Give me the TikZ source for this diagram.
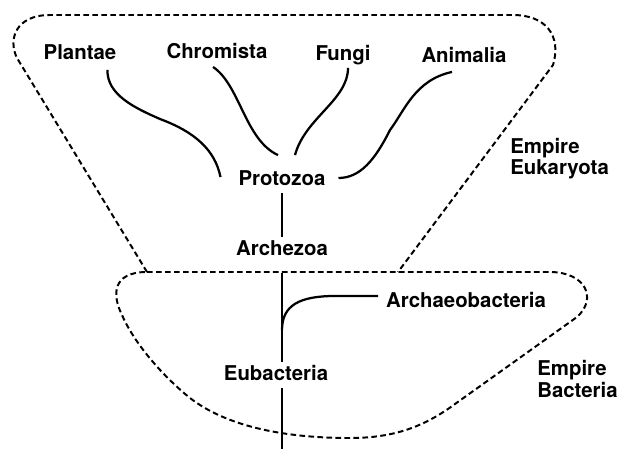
\documentclass[tikz,border=0pt]{standalone}
\usepackage{fontspec}
\setmainfont{TeX Gyre Heros}
\usetikzlibrary{calc}

\begin{document}
\begin{tikzpicture}[
  x=0.025cm, y=-0.025cm,
  font=\fontsize{14.5}{15}\selectfont\bfseries,
  taxon/.style={inner sep=2pt, text height=11pt, text depth=3pt},
  empire/.style={inner sep=0pt, align=left, anchor=west},
  branch/.style={line width=1.6pt},
  bound/.style={line width=1.4pt, dash pattern=on 4pt off 2.4pt},
]
\useasboundingbox (0,0) rectangle (617,449);

% ---------------- NODES (absolute grid) ----------------
\node[taxon] (PLANTAE)   at (80,54)  {Plantae};
\node[taxon] (CHROMISTA) at (217,53) {Chromista};
\node[taxon] (FUNGI)     at (343,55) {Fungi};
\node[taxon] (ANIMALIA)  at (464,57) {Animalia};
\node[taxon] (PROTOZOA)  at (282,180) {Protozoa};
\node[taxon] (ARCHEZOA)  at (282,250) {Archezoa};
\node[taxon] (ARCHAEO)   at (466,302) {Archaeobacteria};
\node[taxon] (EUBAC)     at (276,375) {Eubacteria};

\node[empire] (EUK) at (510,159) {Empire\\Eukaryota};
\node[empire] (BAC) at (537,379) {Empire\\Bacteria};

\coordinate (FORK) at (282,330);
\coordinate (ROOT) at (282,449);

% ---------------- EMPIRE BOUNDARIES ----------------
\draw[bound] (147,272) -- (17,58) .. controls (8,40) and (15,15) .. (50,15)
  -- (513,15) .. controls (545,15) and (562,35) .. (553,65) -- (398,272);
\draw[bound] (147,272) -- (550,272) .. controls (585,272) and (598,298) .. (577,317)
  -- (455,404) .. controls (425,426) and (395,438) .. (350,438)
  .. controls (280,438) and (225,425) .. (190,398)
  .. controls (165,378) and (135,345) .. (122,315)
  .. controls (112,295) and (112,272) .. cycle;

% ---------------- BRANCHES ----------------
\draw[branch] ($(PLANTAE.south east)+(-12,3)$) .. controls (107,95) and (135,108) .. (160,119)
  .. controls (195,132) and (215,150) .. ($(PROTOZOA.west)+(-15,-3)$);
\draw[branch] ($(CHROMISTA.south)+(-4,1)$) .. controls (240,85) and (245,140) .. ($(PROTOZOA.north)+(-4,-12)$);
\draw[branch] ($(FUNGI.south)+(5,0)$) .. controls (348,100) and (305,118) .. ($(PROTOZOA.north)+(13,-12)$);
\draw[branch] ($(ANIMALIA.south)+(-12,2)$) .. controls (415,80) and (405,110) .. (390,130)
  .. controls (375,160) and (360,178) .. ($(PROTOZOA.east)+(10,-2)$);
% stem
\draw[branch] (PROTOZOA.south) -- (ARCHEZOA.north);
\draw[branch] ([yshift=-7pt]ARCHEZOA.south) -- (ARCHEZOA.south |- EUBAC.north);
\draw[branch] (FORK) .. controls (282,305) and (300,296) .. (335,296) -- ($(ARCHAEO.west)+(-5,-6)$);
\draw[branch] (ROOT |- EUBAC.south) -- (ROOT);
\end{tikzpicture}
\end{document}
